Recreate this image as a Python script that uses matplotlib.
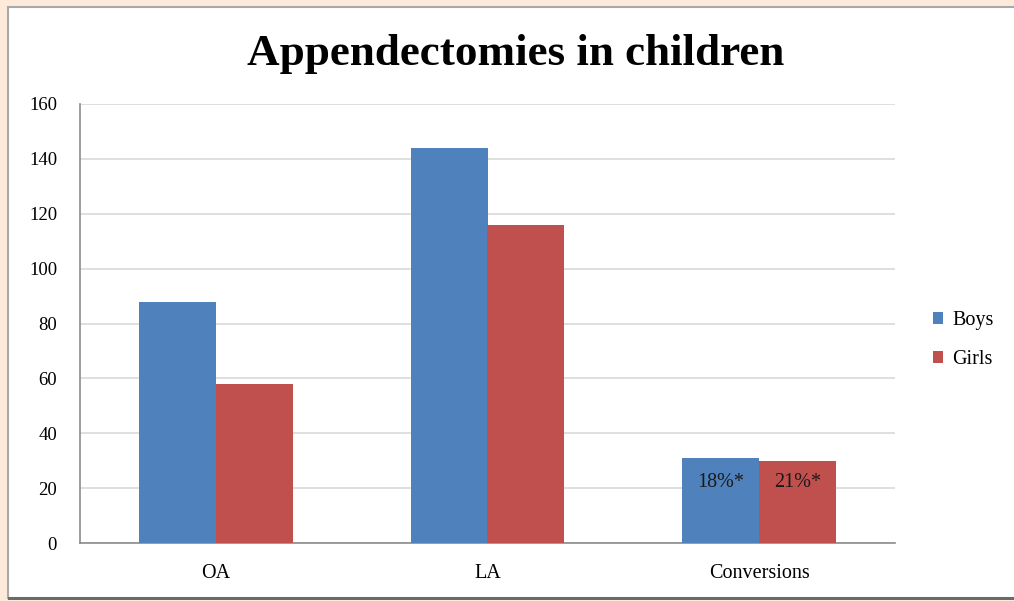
import matplotlib.pyplot as plt
from matplotlib.patches import Rectangle
import numpy as np

categories = ["OA", "LA", "Conversions"]
boys = [88, 144, 31]
girls = [58, 116, 30]
bar_labels_boys = ["", "", "18%*"]
bar_labels_girls = ["", "", "21%*"]
yticks = [0, 20, 40, 60, 80, 100, 120, 140, 160]

plt.rcParams['font.family'] = ['Liberation Serif', 'DejaVu Serif']

W, H = 1014, 601
fig = plt.figure(figsize=(W/100, H/100), dpi=100)
fig.patch.set_facecolor('#FDEADB')

bg = fig.add_axes([0, 0, 1, 1], zorder=0)
bg.set_xlim(0, W)
bg.set_ylim(H, 0)
bg.axis('off')
bg.add_patch(Rectangle((8, 7), W - 8 + 2, 598 - 7, facecolor='white',
                       edgecolor='#A8A8A8', linewidth=1.5))
bg.add_patch(Rectangle((8, 597), W - 8 + 2, 3, facecolor='#6a6a6a', edgecolor='none'))

ax = fig.add_axes([80/W, (H-543)/H, (895-80)/W, (543-104)/H], zorder=2)
ax.set_facecolor('white')
x = np.arange(len(categories))
bw = 0.283
b1 = ax.bar(x - bw/2, boys, bw, color='#4F81BD', label='Boys', zorder=3)
b2 = ax.bar(x + bw/2, girls, bw, color='#C0504D', label='Girls', zorder=3)

for i, t in enumerate(bar_labels_boys):
    if t:
        ax.text(x[i] - bw/2, 22, t, ha='center', va='center', fontsize=14.5, color='#1a1a1a', zorder=4)
for i, t in enumerate(bar_labels_girls):
    if t:
        ax.text(x[i] + bw/2, 22, t, ha='center', va='center', fontsize=14.5, color='#1a1a1a', zorder=4)

ax.set_xlim(-0.5, 2.5)
ax.set_ylim(0, 160)
ax.set_yticks(yticks)
ax.set_xticks(x)
ax.set_xticklabels(categories, fontsize=14.5)
ax.tick_params(axis='y', labelsize=13.5, length=0, pad=16.5)
ax.tick_params(axis='x', length=0, pad=15)
ax.yaxis.grid(True, color='#D9D9D9', linewidth=1.2, zorder=0)
ax.set_axisbelow(True)
for s in ['top', 'right']:
    ax.spines[s].set_visible(False)
for s in ['left', 'bottom']:
    ax.spines[s].set_color('#8C8C8C')
    ax.spines[s].set_linewidth(1.2)

fig.text(516/W, (H-54)/H, "Appendectomies in children", ha='center', va='center',
         fontsize=32.5, fontweight='bold', color='black', zorder=3)

leg = fig.legend(handles=[b1, b2], labels=['Boys', 'Girls'], loc='center left',
                 bbox_to_anchor=(915/W, (H-340)/H), frameon=False, fontsize=14.5,
                 handlelength=0.5, handleheight=0.5, handletextpad=0.45, labelspacing=1.0)
leg.set_zorder(3)

fig.savefig('out.png', dpi=100, facecolor=fig.get_facecolor())
